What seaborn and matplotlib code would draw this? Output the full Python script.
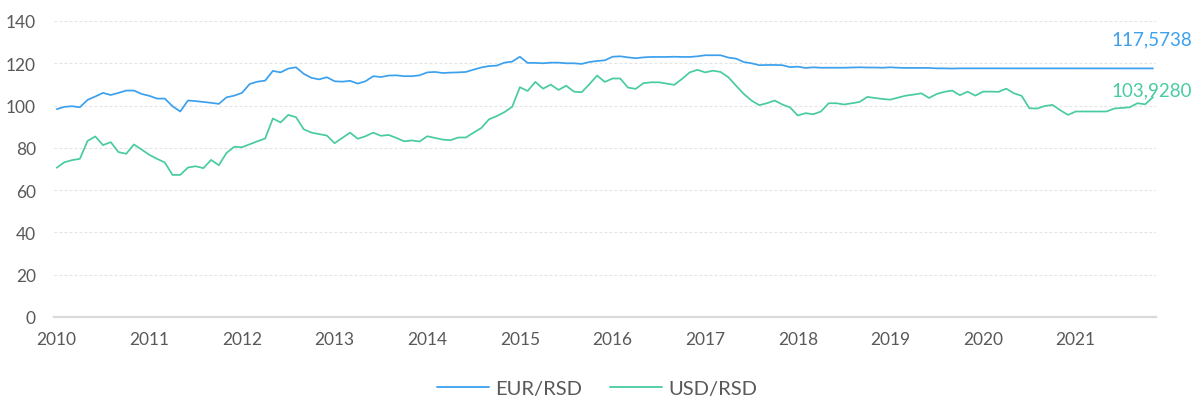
import numpy as np
import pandas as pd
import matplotlib
matplotlib.use("Agg")
import matplotlib.pyplot as plt
import seaborn as sns

# Monthly values, Jan 2010 .. Nov 2021
eur_rsd = [
    98.3, 99.4, 99.7, 99.2, 102.7, 104.3, 106.0, 105.0, 106.0, 107.1, 107.1, 105.5,
    104.6, 103.3, 103.3, 99.7, 97.2, 102.4, 102.1, 101.7, 101.3, 100.8, 103.9, 104.7,
    106.0, 110.2, 111.3, 111.8, 116.4, 115.7, 117.5, 118.1, 115.0, 113.1, 112.4, 113.4,
    111.5, 111.3, 111.7, 110.4, 111.5, 113.9, 113.5, 114.2, 114.3, 113.9, 113.9, 114.3,
    115.7, 115.9, 115.4, 115.6, 115.7, 115.9, 117.0, 118.0, 118.7, 118.9, 120.3, 120.8,
    123.1, 120.2, 120.2, 120.0, 120.3, 120.3, 120.0, 120.0, 119.7, 120.6, 121.1, 121.4,
    123.1, 123.3, 122.8, 122.4, 122.8, 123.0, 123.0, 123.0, 123.1, 123.0, 123.0, 123.3,
    123.8, 123.8, 123.8, 122.7, 122.2, 120.6, 120.0, 119.1, 119.2, 119.2, 119.1, 118.2,
    118.4, 117.8, 118.1, 117.9, 117.9, 117.9, 117.9, 118.0, 118.1, 118.0, 118.0, 117.9,
    118.1, 117.9, 117.8, 117.8, 117.8, 117.8, 117.6, 117.6, 117.5, 117.6, 117.6, 117.6,
    117.58, 117.58, 117.58, 117.58, 117.58, 117.58, 117.58, 117.58, 117.58, 117.58, 117.58, 117.58,
    117.57, 117.57, 117.57, 117.57, 117.57, 117.57, 117.57, 117.57, 117.57, 117.57, 117.5738,
]
usd_rsd = [
    70.6, 73.2, 74.2, 74.8, 83.3, 85.4, 81.3, 82.7, 78.0, 77.2, 81.6, 79.2,
    76.7, 74.8, 73.1, 67.2, 67.2, 70.7, 71.3, 70.4, 74.3, 71.8, 77.6, 80.5,
    80.3, 81.7, 83.1, 84.4, 93.9, 92.0, 95.6, 94.5, 88.8, 87.2, 86.5, 85.8,
    82.2, 84.7, 87.2, 84.3, 85.5, 87.2, 85.7, 86.1, 84.7, 83.1, 83.5, 83.0,
    85.5, 84.7, 83.9, 83.6, 84.9, 84.9, 87.2, 89.4, 93.5, 95.0, 96.9, 99.4,
    108.7, 106.9, 111.2, 108.0, 109.9, 107.4, 109.4, 106.6, 106.3, 110.1, 114.2, 111.2,
    112.8, 112.8, 108.5, 107.9, 110.6, 111.0, 111.0, 110.4, 109.8, 112.6, 115.7, 116.9,
    115.7, 116.5, 115.9, 113.4, 109.4, 105.5, 102.4, 100.2, 101.1, 102.4, 100.5, 99.1,
    95.3, 96.4, 95.9, 97.2, 101.1, 101.1, 100.5, 101.1, 101.7, 104.1, 103.6, 103.1,
    102.8, 103.8, 104.7, 105.2, 105.8, 103.6, 105.5, 106.5, 107.1, 104.9, 106.6, 104.7,
    106.6, 106.6, 106.5, 108.0, 105.8, 104.6, 98.7, 98.6, 99.8, 100.3, 97.8, 95.6,
    97.2, 97.2, 97.2, 97.2, 97.2, 98.6, 98.9, 99.2, 101.1, 100.6, 103.928,
]
series_names = ["EUR/RSD", "USD/RSD"]
last_labels = ["117,5738", "103,9280"]
year_ticks = list(range(2010, 2022))
y_ticks = [0, 20, 40, 60, 80, 100, 120, 140]

n = len(eur_rsd)
t = 2010 + np.arange(n) / 12.0
df = pd.DataFrame({
    "t": np.concatenate([t, t]),
    "value": eur_rsd + usd_rsd,
    "series": [series_names[0]] * n + [series_names[1]] * n,
})

sns.set_theme(style="white")
plt.rcParams["font.family"] = ["Lato", "DejaVu Sans"]

colors = ["#3ba0ee", "#48cba2"]
fig = plt.figure(figsize=(11.94, 4.02), dpi=100)
ax = fig.add_axes([54 / 1194, 1 - 318 / 402, (1156 - 54) / 1194, (318 - 22) / 402])

sns.lineplot(data=df, x="t", y="value", hue="series", palette=colors,
             linewidth=1.25, ax=ax, legend=False)

ax.set_ylim(0, 140)
ax.set_xlim(2010 - 0.35 / 12, 2010 + 142.4 / 12)
ax.set_yticks(y_ticks)
ax.set_xticks(year_ticks)
ax.set_xticklabels([str(y) for y in year_ticks])
ax.set_xlabel("")
ax.set_ylabel("")
for y in y_ticks[1:]:
    ax.axhline(y, color="#e3e3e3", linewidth=0.8, linestyle=(0, (2.5, 2)), zorder=0)
for s in ["top", "right", "left"]:
    ax.spines[s].set_visible(False)
ax.spines["bottom"].set_color("#d9d9d9")
ax.spines["bottom"].set_linewidth(1.6)
ax.tick_params(axis="both", length=0, labelsize=12.5, labelcolor="#595959")
ax.tick_params(axis="y", pad=13)
ax.tick_params(axis="x", pad=10)

# end value labels
ax.annotate(last_labels[0], xy=(t[-1], eur_rsd[-1]), xycoords="data",
            xytext=(1192, 402 - 40), textcoords="figure pixels",
            ha="right", va="center", fontsize=13.5, color=colors[0])
ax.annotate(last_labels[1], xy=(t[-1], usd_rsd[-1]), xycoords="data",
            xytext=(1192, 402 - 91), textcoords="figure pixels",
            ha="right", va="center", fontsize=13.5, color=colors[1])

from matplotlib.lines import Line2D
handles = [Line2D([0], [0], color=c, lw=1.3) for c in colors]
leg = fig.legend(handles, series_names, loc="center", bbox_to_anchor=(0.5, 1 - 389 / 402),
                 ncol=2, frameon=False, fontsize=14.5, handlelength=2.6,
                 handletextpad=0.3, columnspacing=1.4)
for txt in leg.get_texts():
    txt.set_color("#595959")

fig.savefig("out.png", dpi=100)
